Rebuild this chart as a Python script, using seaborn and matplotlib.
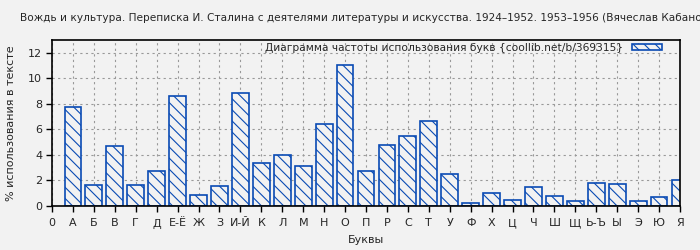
import matplotlib
matplotlib.use("Agg")
import matplotlib.pyplot as plt
import seaborn as sns
import pandas as pd

letters = ["А", "Б", "В", "Г", "Д", "Е-Ё", "Ж", "З", "И-Й", "К", "Л", "М", "Н", "О", "П",
           "Р", "С", "Т", "У", "Ф", "Х", "Ц", "Ч", "Ш", "Щ", "Ь-Ъ", "Ы", "Э", "Ю", "Я"]
values = [7.77, 1.61, 4.73, 1.61, 2.78, 8.63, 0.83, 1.53, 8.86, 3.40, 4.03, 3.17, 6.44, 11.04, 2.78,
          4.81, 5.51, 6.68, 2.47, 0.21, 0.99, 0.44, 1.48, 0.78, 0.36, 1.77, 1.69, 0.36, 0.70, 2.00]
tick_labels = ["0"] + letters
y_ticks = [0, 2, 4, 6, 8, 10, 12]

title = "Вождь и культура. Переписка И. Сталина с деятелями литературы и искусства. 1924–1952. 1953–1956 (Вячеслав Кабанов)"
legend_label = "Диаграмма частоты использования букв {coollib.net/b/369315}"

bg = "#f2f2f2"
blue = "#0a4bb4"

sns.set_theme(style="white")
plt.rcParams["font.family"] = ["DejaVu Sans"]
plt.rcParams["hatch.linewidth"] = 0.8
plt.rcParams["hatch.color"] = blue

df = pd.DataFrame({"letter": letters, "value": values})

fig = plt.figure(figsize=(7, 2.5), dpi=100, facecolor=bg)
ax = fig.add_axes([52 / 700, 1 - 206 / 250, (680 - 52) / 700, (206 - 40) / 250])
ax.set_facecolor(bg)

sns.barplot(data=df, x="letter", y="value", ax=ax, color=bg, edgecolor=blue,
            linewidth=1.2, width=0.8, hatch="\\\\\\", label=legend_label, legend=False)

ax.set_xlim(-1, len(letters) - 1)
ax.set_ylim(0, 13)
ax.set_xticks(range(-1, len(letters)))
ax.set_xticklabels(tick_labels, fontsize=8)
ax.set_yticks(y_ticks)
ax.set_yticklabels([str(v) for v in y_ticks], fontsize=8)
ax.tick_params(axis="x", direction="out", length=4, width=1, color="black", pad=5, bottom=True)
ax.tick_params(axis="y", direction="out", length=4, width=1, color="black", pad=3, left=True)

ax.grid(True, color="#999999", linestyle=(0, (2, 3)), linewidth=0.8)
ax.set_axisbelow(True)
for s in ax.spines.values():
    s.set_color("black")
    s.set_linewidth(1.2)

ax.set_xlabel("Буквы", fontsize=8, labelpad=5)
ax.set_ylabel("% использования в тексте", fontsize=8, labelpad=9)

leg = ax.legend(loc="upper right", frameon=False, markerfirst=False, fontsize=7.7,
                handlelength=2.8, handleheight=0.6, borderaxespad=0.0,
                borderpad=0.25, handletextpad=0.9, bbox_to_anchor=(1 - 15 / 628, 1))

fig.text(20 / 700, 1 - 18 / 250, title, fontsize=7.6, ha="left", va="center")

fig.savefig("out.png", dpi=100, facecolor=bg)
